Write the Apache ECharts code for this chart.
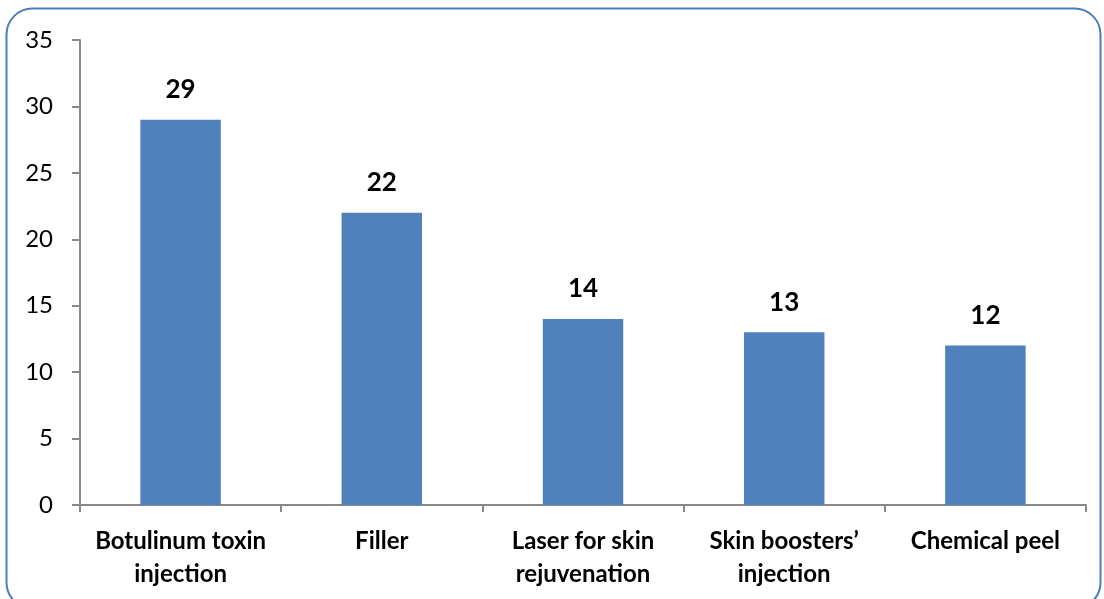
<!DOCTYPE html>
<html>
<head>
<meta charset="utf-8">
<style>
  html, body { margin: 0; padding: 0; background: #fff; }
  #chart { width: 1104px; height: 599px; }
</style>
<script src="https://cdn.jsdelivr.net/npm/echarts@6/dist/echarts.min.js"></script>
</head>
<body>
<div id="chart"></div>
<script>
// Treatment categories and their counts
// (a zero-width non-joiner keeps "t" and "i" apart so Lato does not ligate them)
const categories = [
  'Botulinum toxin\ninjec\u200Ction',
  'Filler',
  'Laser for skin\nrejuvena\u200Ction',
  'Skin boosters\u2019\ninjec\u200Ction',
  'Chemical peel'
];
const counts = [29, 22, 14, 13, 12];
const yTicks = { min: 0, max: 35, interval: 5 };

const chart = echarts.init(document.getElementById('chart'), null, { renderer: 'canvas' });
const axisGrey = '#898989';
const font = 'Lato, "Open Sans", sans-serif';

chart.setOption({
  animation: false,
  graphic: [{
    type: 'rect',
    shape: { x: 6.5, y: 8.5, width: 1094, height: 600, r: 26 },
    style: { fill: 'none', stroke: '#4A7EBB', lineWidth: 2 },
    z: 100
  }],
  grid: { left: 80, right: 18, top: 40, bottom: 94, containLabel: false },
  xAxis: {
    type: 'category',
    data: categories,
    axisLine: { lineStyle: { color: axisGrey, width: 2 } },
    axisTick: { show: true, length: 7, lineStyle: { color: axisGrey, width: 2 } },
    axisLabel: {
      margin: 20,
      color: '#000',
      fontFamily: font,
      fontWeight: 'bold',
      fontSize: 24,
      lineHeight: 33,
      interval: 0
    }
  },
  yAxis: {
    type: 'value',
    min: yTicks.min,
    max: yTicks.max,
    interval: yTicks.interval,
    splitLine: { show: false },
    axisLine: { show: true, lineStyle: { color: axisGrey, width: 2 } },
    axisTick: { show: true, length: 8, lineStyle: { color: axisGrey, width: 2 } },
    axisLabel: { margin: 27, color: '#000', fontFamily: font, fontSize: 24 }
  },
  series: [{
    type: 'bar',
    data: counts,
    barWidth: '40%',
    itemStyle: { color: '#4F81BD' },
    label: {
      show: true,
      position: 'top',
      distance: 17,
      color: '#000',
      fontFamily: font,
      fontWeight: 'bold',
      fontSize: 26
    }
  }]
});
</script>
</body>
</html>
